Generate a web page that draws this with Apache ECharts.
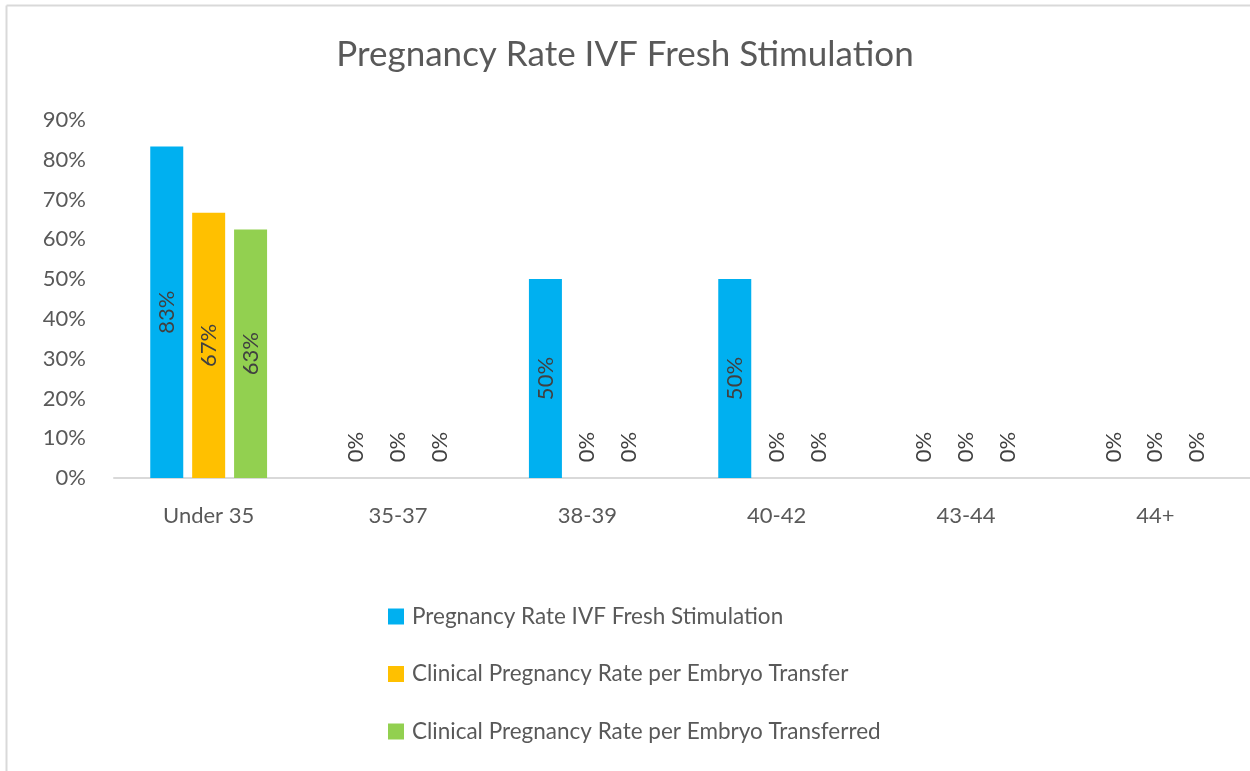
<!DOCTYPE html>
<html>
<head>
<meta charset="utf-8">
<script src="https://cdn.jsdelivr.net/npm/echarts@6/dist/echarts.min.js"></script>
<style>
html,body{margin:0;padding:0;background:#fff;}
#chart{width:1250px;height:771px;}
</style>
</head>
<body>
<div id="chart"></div>
<script>
const titleText = 'Pregnancy Rate IVF Fresh Stimulation';
const categories = ['Under 35', '35-37', '38-39', '40-42', '43-44', '44+'];
const seriesNames = [
  'Pregnancy Rate IVF Fresh Stimulation',
  'Clinical Pregnancy Rate per Embryo Transfer',
  'Clinical Pregnancy Rate per Embryo Transferred'
];
const pregnancyRate = [83.33, 0, 50, 50, 0, 0];
const clinicalPerTransfer = [66.67, 0, 0, 0, 0, 0];
const clinicalPerTransferred = [62.5, 0, 0, 0, 0, 0];
const colors = ['#00B0F0', '#FFC000', '#92D050'];

const FONT = 'Lato';
const TXT = '#595959';

function toData(arr) {
  return arr.map(v => ({
    value: v,
    label: v === 0 ? { offset: [31, 0] } : {}
  }));
}

function makeSeries(name, arr, color) {
  return {
    name: name,
    type: 'bar',
    data: toData(arr),
    barWidth: 33,
    barGap: '27%',
    itemStyle: { color: color },
    label: {
      show: true,
      position: 'inside',
      rotate: 90,
      fontFamily: FONT,
      fontSize: 22,
      color: '#404040',
      formatter: p => Math.round(p.value) + '%'
    }
  };
}

const chart = echarts.init(document.getElementById('chart'), null, { renderer: 'canvas' });
chart.setOption({
  backgroundColor: '#fff',
  animation: false,
  color: colors,
  title: {
    text: titleText,
    left: 'center',
    top: 32,
    textStyle: { fontFamily: FONT, fontSize: 35, fontWeight: 'normal', color: TXT }
  },
  legend: {
    orient: 'vertical',
    left: 388,
    top: 605,
    padding: 0,
    itemWidth: 16,
    itemHeight: 16,
    itemGap: 34.5,
    icon: 'rect',
    textStyle: { fontFamily: FONT, fontSize: 22.5, color: TXT, padding: [0, 0, 0, 3] },
    data: seriesNames
  },
  grid: { left: 114, right: 0, top: 120, bottom: 293, containLabel: false },
  xAxis: {
    type: 'category',
    data: categories,
    axisLine: { lineStyle: { color: '#d9d9d9', width: 2 } },
    axisTick: { show: false },
    axisLabel: { fontFamily: FONT, fontSize: 22, color: TXT, margin: 27 }
  },
  yAxis: {
    type: 'value',
    min: 0,
    max: 90,
    interval: 10,
    axisLine: { show: false },
    axisTick: { show: false },
    splitLine: { show: false },
    axisLabel: { fontFamily: FONT, fontSize: 22, color: TXT, margin: 28, formatter: '{value}%' }
  },
  graphic: [
    { type: 'line', shape: { x1: 6.5, y1: 5.5, x2: 1250, y2: 5.5 }, style: { stroke: '#d9d9d9', lineWidth: 2 }, silent: true },
    { type: 'line', shape: { x1: 6.5, y1: 5.5, x2: 6.5, y2: 771 }, style: { stroke: '#d9d9d9', lineWidth: 2 }, silent: true }
  ],
  series: [
    makeSeries(seriesNames[0], pregnancyRate, colors[0]),
    makeSeries(seriesNames[1], clinicalPerTransfer, colors[1]),
    makeSeries(seriesNames[2], clinicalPerTransferred, colors[2])
  ]
});
</script>
</body>
</html>
